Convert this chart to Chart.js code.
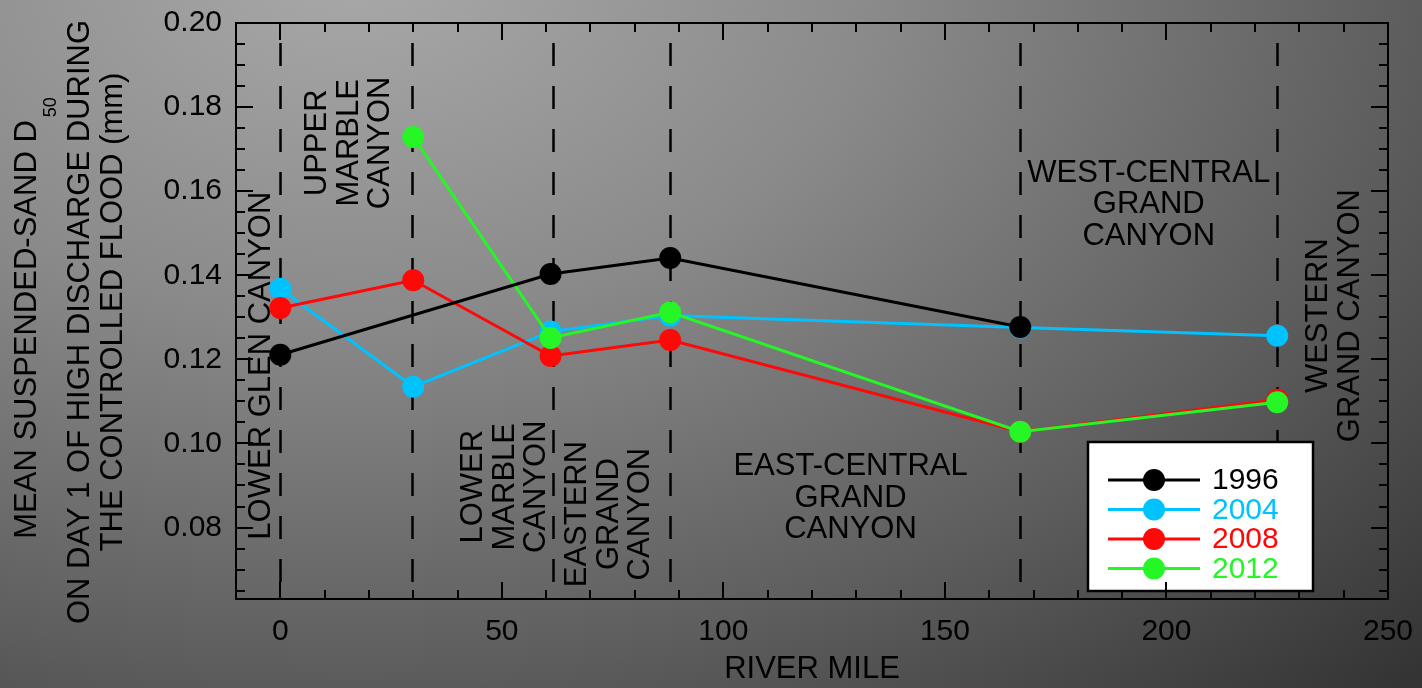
<!DOCTYPE html>
<html>
<head>
<meta charset="utf-8">
<script src="https://cdn.jsdelivr.net/npm/chart.js@4.4.1/dist/chart.umd.min.js"></script>
<style>
  html, body { margin: 0; padding: 0; width: 1422px; height: 688px; overflow: hidden; }
  body {
    background:
      radial-gradient(ellipse 1500px 1000px at 25% -5%, #a9a9a9 0%, #8a8a8a 35%, #5e5e5e 70%, #343434 100%);
  }
  #wrap { position: relative; width: 1422px; height: 688px; }
</style>
</head>
<body>
<div id="wrap"><canvas id="chart" width="1422" height="688"></canvas></div>
<script>
// River miles of the sampling stations
const riverMiles = [0, 30, 61, 88, 167, 225];

// Mean suspended-sand D50 (mm) on day 1 of high discharge, per flood year
const d50_1996 = [0.1211, null, 0.1403, 0.1441, 0.1277, null];
const d50_2004 = [0.1368, 0.1135, 0.1266, 0.1304, 0.1276, 0.1256];
const d50_2008 = [0.1322, 0.1388, 0.1208, 0.1246, 0.1028, 0.1104];
const d50_2012 = [null, 0.1729, 0.1251, 0.1312, 0.1028, 0.1098];

const seriesNames = ['1996', '2004', '2008', '2012'];
const seriesValues = [d50_1996, d50_2004, d50_2008, d50_2012];

// Reach boundaries (river mile) drawn as dashed lines
const reachBoundaries = [0, 29.7, 61.5, 88, 167, 225];

// Reach names
const reachNames = [
  ['LOWER GLEN CANYON'],
  ['UPPER', 'MARBLE', 'CANYON'],
  ['LOWER', 'MARBLE', 'CANYON'],
  ['EASTERN', 'GRAND', 'CANYON'],
  ['EAST-CENTRAL', 'GRAND', 'CANYON'],
  ['WEST-CENTRAL', 'GRAND', 'CANYON'],
  ['WESTERN', 'GRAND CANYON']
];

// Axis tick values
const xTickLabels = [0, 50, 100, 150, 200, 250];
const yTickLabels = [0.08, 0.10, 0.12, 0.14, 0.16, 0.18, 0.20];

const FONT = '"Liberation Sans", Arial, Helvetica, sans-serif';
const seriesColors = ['#000000', '#00c2ff', '#ff0808', '#26f526'];
const drawOrder = [0, 3, 2, 1]; // 1996 on top, 2004 at the bottom

// Where each reach name sits, in (river mile, D50) units, and whether it runs vertically
const reachLabelPlacement = [
  { x: -4.5, y: 0.1185, vertical: true },
  { x: 15.3, y: 0.1715, vertical: true },
  { x: 50.5, y: 0.0897, vertical: true },
  { x: 74.0, y: 0.0832, vertical: true },
  { x: 128.7, y: 0.0872, vertical: false },
  { x: 196.0, y: 0.1570, vertical: false },
  { x: 237.7, y: 0.1304, vertical: true }
];

const isMultiple = (v, step) => Math.abs(v / step - Math.round(v / step)) < 1e-6;

// Dashed reach boundaries and reach names, under the data
const reachPlugin = {
  id: 'reaches',
  beforeDatasetsDraw(chart) {
    const { ctx, chartArea: ca, scales: { x, y } } = chart;
    ctx.save();
    ctx.strokeStyle = '#000';
    ctx.lineWidth = 2.5;
    ctx.setLineDash([23, 20]);
    ctx.lineDashOffset = 23;
    reachBoundaries.forEach(m => {
      const px = Math.round(x.getPixelForValue(m)) + 0.5;
      ctx.beginPath();
      ctx.moveTo(px, ca.top);
      ctx.lineTo(px, ca.bottom);
      ctx.stroke();
    });
    ctx.setLineDash([]);
    ctx.fillStyle = '#000';
    ctx.font = '31px ' + FONT;
    ctx.textAlign = 'center';
    ctx.textBaseline = 'middle';
    const lh = 31.5;
    reachNames.forEach((lines, i) => {
      const p = reachLabelPlacement[i];
      const cx = x.getPixelForValue(p.x);
      const cy = y.getPixelForValue(p.y);
      ctx.save();
      ctx.translate(cx, cy);
      if (p.vertical) ctx.rotate(-Math.PI / 2);
      lines.forEach((t, k) => {
        ctx.fillText(t, 0, (k - (lines.length - 1) / 2) * lh + 1);
      });
      ctx.restore();
    });
    ctx.restore();
  }
};

// Plot frame with inward ticks on all four sides
const framePlugin = {
  id: 'frame',
  afterDraw(chart) {
    const { ctx, chartArea: ca, scales: { x, y } } = chart;
    ctx.save();
    ctx.strokeStyle = '#000';
    ctx.lineWidth = 2;
    ctx.strokeRect(ca.left, ca.top, ca.right - ca.left, ca.bottom - ca.top);
    const xStep = 10, yStep = 0.005;
    for (let v = Math.ceil(x.min / xStep) * xStep; v <= x.max + 1e-9; v += xStep) {
      if (v <= x.min + 1e-9 || v >= x.max - 1e-9) continue;
      const px = Math.round(x.getPixelForValue(v));
      const len = isMultiple(v, 50) ? 17 : 9;
      ctx.beginPath();
      ctx.moveTo(px, ca.bottom); ctx.lineTo(px, ca.bottom - len);
      ctx.moveTo(px, ca.top); ctx.lineTo(px, ca.top + len);
      ctx.stroke();
    }
    const n0 = Math.ceil(y.min / yStep - 1e-6);
    const n1 = Math.floor(y.max / yStep + 1e-6);
    for (let n = n0; n <= n1; n++) {
      const v = n * yStep;
      if (v <= y.min + 1e-9 || v >= y.max - 1e-9) continue;
      const py = Math.round(y.getPixelForValue(v));
      const len = isMultiple(v, 0.02) ? 17 : 9;
      ctx.beginPath();
      ctx.moveTo(ca.left, py); ctx.lineTo(ca.left + len, py);
      ctx.moveTo(ca.right, py); ctx.lineTo(ca.right - len, py);
      ctx.stroke();
    }
    ctx.restore();
  }
};

// Legend box inside the plot, lower right
const legendPlugin = {
  id: 'legendBox',
  afterDatasetsDraw(chart) {
    const { ctx, chartArea: ca } = chart;
    const w = 225, h = 149;
    const bx = ca.right - 75 - w, by = ca.bottom - 8 - h;
    ctx.save();
    ctx.fillStyle = '#fff';
    ctx.fillRect(bx, by, w, h);
    ctx.strokeStyle = '#000';
    ctx.lineWidth = 2.5;
    ctx.strokeRect(bx, by, w, h);
    ctx.font = '30px ' + FONT;
    ctx.textAlign = 'left';
    ctx.textBaseline = 'middle';
    seriesNames.forEach((name, i) => {
      const ry = by + 38 + i * 29.5;
      ctx.strokeStyle = seriesColors[i];
      ctx.lineWidth = 3;
      ctx.beginPath();
      ctx.moveTo(bx + 20, ry); ctx.lineTo(bx + 112, ry);
      ctx.stroke();
      ctx.fillStyle = seriesColors[i];
      ctx.beginPath();
      ctx.arc(bx + 66, ry, 11, 0, Math.PI * 2);
      ctx.fill();
      ctx.fillText(name, bx + 124, ry + 1);
    });
    ctx.restore();
  }
};

// Y-axis title with subscripted D50
const yTitlePlugin = {
  id: 'yTitle',
  afterDraw(chart) {
    const { ctx } = chart;
    ctx.save();
    ctx.fillStyle = '#000';
    ctx.textBaseline = 'middle';
    // first line: main text plus subscript
    const main = 'MEAN SUSPENDED-SAND D', sub = '50';
    ctx.font = '31px ' + FONT;
    const w1 = ctx.measureText(main).width;
    ctx.font = '18px ' + FONT;
    const w2 = ctx.measureText(sub).width;
    ctx.save();
    ctx.translate(26, 318);
    ctx.rotate(-Math.PI / 2);
    ctx.textAlign = 'left';
    ctx.font = '31px ' + FONT;
    ctx.fillText(main, -(w1 + w2 + 3) / 2, 1);
    ctx.font = '18px ' + FONT;
    ctx.fillText(sub, -(w1 + w2 + 3) / 2 + w1 + 3, 25);
    ctx.restore();
    // remaining lines
    ctx.font = '31px ' + FONT;
    ctx.textAlign = 'center';
    [['ON DAY 1 OF HIGH DISCHARGE DURING', 79, 322], ['THE CONTROLLED FLOOD (mm)', 112, 312]].forEach(([t, cx, cy]) => {
      ctx.save();
      ctx.translate(cx, cy);
      ctx.rotate(-Math.PI / 2);
      ctx.fillText(t, 0, 1);
      ctx.restore();
    });
    ctx.restore();
  }
};

const datasets = seriesNames.map((name, i) => ({
  label: name,
  data: riverMiles
    .map((m, k) => ({ x: m, y: seriesValues[i][k] }))
    .filter(p => p.y !== null),
  borderColor: seriesColors[i],
  backgroundColor: seriesColors[i],
  pointBackgroundColor: seriesColors[i],
  pointBorderWidth: 0,
  pointRadius: 11,
  borderWidth: 3,
  tension: 0,
  order: drawOrder[i],
  clip: false
}));

new Chart(document.getElementById('chart'), {
  type: 'line',
  data: { datasets },
  options: {
    responsive: false,
    animation: false,
    events: [],
    layout: { padding: { left: 0, right: 34, top: 23, bottom: 0 } },
    plugins: { legend: { display: false }, tooltip: { enabled: false } },
    scales: {
      x: {
        type: 'linear',
        min: -10,
        max: 250,
        grid: { display: false, drawTicks: false },
        border: { display: false },
        afterBuildTicks: s => { s.ticks = xTickLabels.map(v => ({ value: v })); },
        ticks: {
          autoSkip: false, maxRotation: 0, padding: 15, color: '#000',
          font: { family: FONT, size: 30 },
          callback: v => String(v)
        },
        title: {
          display: true, text: 'RIVER MILE', color: '#000',
          font: { family: FONT, size: 31 }, padding: { top: 6, bottom: 0 }
        },
        afterFit: s => { s.height = 89; s.paddingLeft = 0; s.paddingRight = 0; }
      },
      y: {
        type: 'linear',
        min: 0.063,
        max: 0.20,
        grid: { display: false, drawTicks: false },
        border: { display: false },
        afterBuildTicks: s => { s.ticks = yTickLabels.map(v => ({ value: v })); },
        ticks: {
          autoSkip: false, padding: 14, color: '#000',
          font: { family: FONT, size: 30 },
          callback: v => v.toFixed(2)
        },
        afterFit: s => { s.width = 236; s.paddingTop = 0; s.paddingBottom = 0; }
      }
    }
  },
  plugins: [reachPlugin, legendPlugin, framePlugin, yTitlePlugin]
});
</script>
</body>
</html>
